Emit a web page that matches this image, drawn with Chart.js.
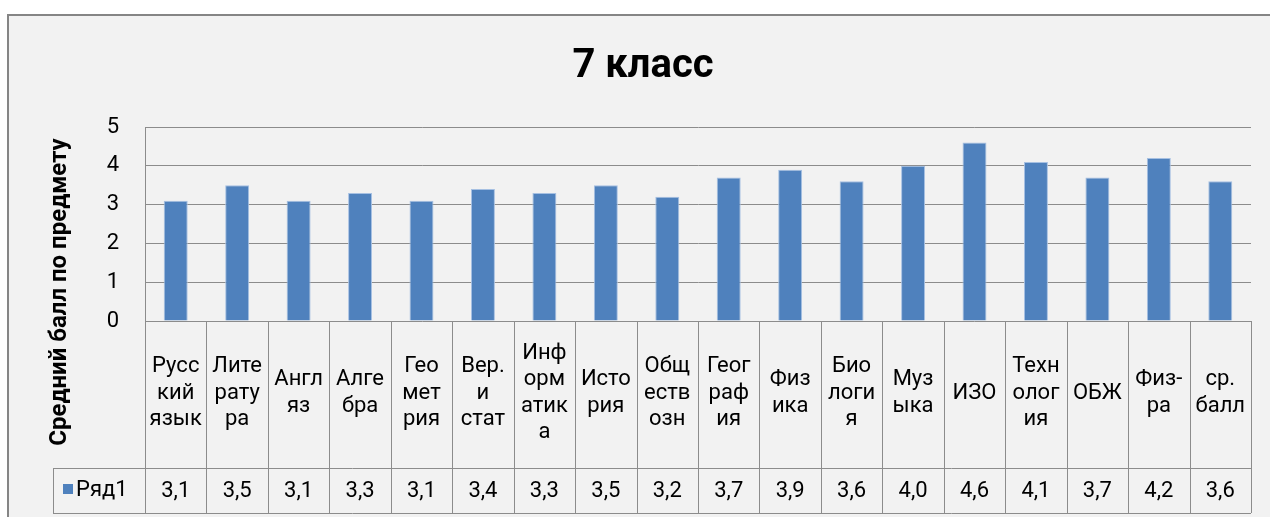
<!DOCTYPE html>
<html>
<head>
<meta charset="utf-8">
<script src="https://cdn.jsdelivr.net/npm/chart.js@4"></script>
<style>
  html, body { margin: 0; padding: 0; background: #ffffff; }
  canvas { display: block; }
</style>
</head>
<body>
<canvas id="c" width="1270" height="517"></canvas>
<script>
const chartTitle = "7 класс";
const yAxisTitle = "Средний балл по предмету";
const seriesName = "Ряд1";
const categories = [
  ["Русс","кий","язык"], ["Лите","рату","ра"], ["Англ","яз"], ["Алге","бра"],
  ["Гео","мет","рия"], ["Вер.","и","стат"], ["Инф","орм","атик","а"], ["Исто","рия"],
  ["Общ","еств","озн"], ["Геог","раф","ия"], ["Физ","ика"], ["Био","логи","я"],
  ["Муз","ыка"], ["ИЗО"], ["Техн","олог","ия"], ["ОБЖ"], ["Физ-","ра"], ["ср.","балл"]
];
const values = [3.1, 3.5, 3.1, 3.3, 3.1, 3.4, 3.3, 3.5, 3.2, 3.7, 3.9, 3.6, 4.0, 4.6, 4.1, 3.7, 4.2, 3.6];
const yTicks = [0, 1, 2, 3, 4, 5];

const FONT = "Roboto, 'Noto Sans', sans-serif";
const BAR = "#4f81bd";
const LINE = "#8c8c8c";

const frame = {
  id: "frame",
  beforeDraw(chart) {
    const ctx = chart.ctx;
    ctx.save();
    ctx.fillStyle = "#ffffff";
    ctx.fillRect(0, 0, chart.width, chart.height);
    ctx.fillStyle = "#f2f2f2";
    ctx.fillRect(8, 15, chart.width - 8, chart.height - 15);
    ctx.strokeStyle = "#858585";
    ctx.lineWidth = 2;
    ctx.beginPath();
    ctx.moveTo(8, chart.height + 2);
    ctx.lineTo(8, 15);
    ctx.lineTo(chart.width + 2, 15);
    ctx.stroke();
    ctx.restore();
  },
  afterDraw(chart) {
    const ctx = chart.ctx;
    const xs = chart.scales.x;
    const area = chart.chartArea;
    const n = categories.length;
    const w = (area.right - area.left) / n;
    const tableTop = area.bottom;
    const rowY = 468;
    const tableBottom = 513;
    const legendLeft = 53;

    ctx.save();
    // table lines
    ctx.strokeStyle = LINE;
    ctx.lineWidth = 1;
    ctx.beginPath();
    for (let i = 0; i <= n; i++) {
      const bx = Math.round(xs.getPixelForValue(0) - w / 2 + i * w) + 0.5;
      ctx.moveTo(bx, tableTop);
      ctx.lineTo(bx, tableBottom);
    }
    ctx.moveTo(legendLeft + 0.5, rowY);
    ctx.lineTo(legendLeft + 0.5, tableBottom);
    ctx.moveTo(legendLeft, rowY + 0.5);
    ctx.lineTo(area.right, rowY + 0.5);
    ctx.moveTo(legendLeft, tableBottom + 0.5);
    ctx.lineTo(area.right, tableBottom + 0.5);
    ctx.stroke();

    // category labels
    ctx.fillStyle = "#000000";
    ctx.font = "22px " + FONT;
    ctx.textAlign = "center";
    ctx.textBaseline = "middle";
    const lh = 26.5;
    const midY = 393;
    categories.forEach((lines, i) => {
      const cx = xs.getPixelForValue(i);
      const y0 = midY - (lines.length - 1) * lh / 2;
      lines.forEach((t, k) => ctx.fillText(t, cx, y0 + k * lh));
    });

    // values row
    values.forEach((v, i) => {
      const cx = xs.getPixelForValue(i);
      ctx.fillText(v.toFixed(1).replace(".", ","), cx, 491);
    });

    // legend key
    ctx.fillStyle = BAR;
    ctx.fillRect(63, 484, 10, 10);
    ctx.fillStyle = "#000000";
    ctx.textAlign = "left";
    ctx.fillText(seriesName, 76, 490);

    // axis title
    ctx.save();
    ctx.translate(60, 292);
    ctx.rotate(-Math.PI / 2);
    ctx.font = "bold 24px " + FONT;
    ctx.textAlign = "center";
    ctx.fillText(yAxisTitle, 0, 0);
    ctx.restore();

    // chart title
    ctx.font = "bold 40px " + FONT;
    ctx.textAlign = "center";
    ctx.fillText(chartTitle, 643, 67);
    ctx.restore();
  }
};

new Chart(document.getElementById("c"), {
  type: "bar",
  data: {
    labels: categories.map(c => c.join("")),
    datasets: [{
      label: seriesName,
      data: values,
      backgroundColor: BAR,
      borderColor: "#a6c0e2",
      borderWidth: 1,
      barPercentage: 0.39,
      categoryPercentage: 1.0
    }]
  },
  options: {
    responsive: false,
    animation: false,
    devicePixelRatio: 1,
    layout: { padding: { top: 127, right: 19, bottom: 196, left: 0 } },
    plugins: { legend: { display: false }, tooltip: { enabled: false }, title: { display: false } },
    scales: {
      x: { display: false },
      y: {
        min: yTicks[0],
        max: yTicks[yTicks.length - 1],
        afterBuildTicks(s) { s.ticks = yTicks.map(v => ({ value: v })); },
        afterFit(s) { s.width = 145; },
        ticks: { color: "#000000", font: { family: FONT, size: 22 }, padding: 26 },
        grid: { color: LINE, drawTicks: false, lineWidth: 1 },
        border: { display: true, color: LINE }
      }
    }
  },
  plugins: [frame]
});
</script>
</body>
</html>
